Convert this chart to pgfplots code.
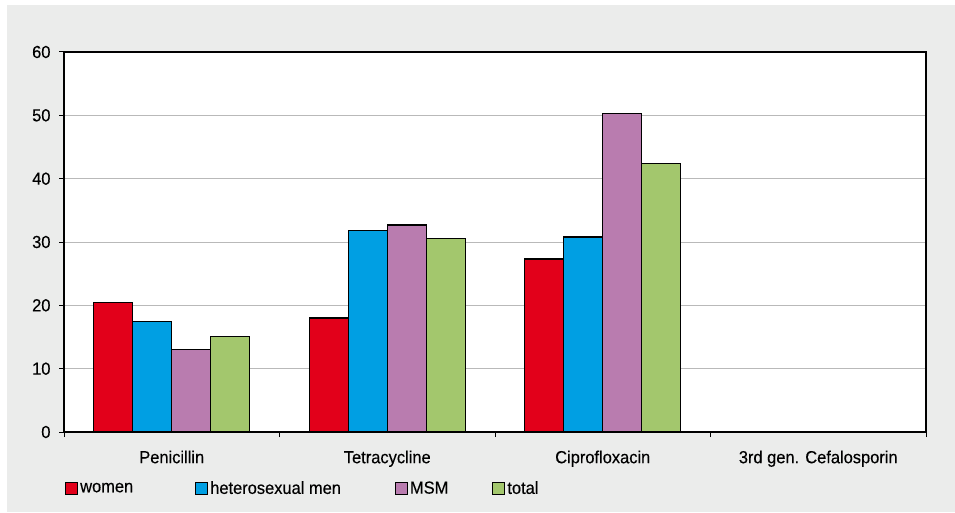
\documentclass[border=0pt]{standalone}
\usepackage{pgfplots}
\pgfplotsset{compat=1.18}
\usepackage{fontspec}
\setmainfont{Liberation Sans}
\newfontfamily\chartfam{Liberation Sans}[FakeStretch=0.94, FakeBold=0.3]

\definecolor{bgpanel}{RGB}{235,236,235}
\definecolor{cwomen}{RGB}{226,0,26}
\definecolor{chetero}{RGB}{0,159,227}
\definecolor{cmsm}{RGB}{185,124,175}
\definecolor{ctotal}{RGB}{163,199,109}
\definecolor{gridgray}{RGB}{185,185,185}
\newcommand{\chartfont}{\chartfam\fontsize{17.5}{20}\selectfont}

\begin{document}
\begin{tikzpicture}[x=1pt,y=1pt,font=\chartfont]
  % page and panel background
  \fill[white] (0,0) rectangle (955,512);
  \fill[bgpanel] (7,0) rectangle (955,507);
  \begin{axis}[
    at={(64pt,80pt)}, anchor=south west,
    scale only axis, width=862pt, height=380pt,
    axis background/.style={fill=white},
    ybar=0pt, bar width=39pt,
    xmin=-0.5, xmax=3.5, ymin=0, ymax=60,
    xtick={0,1,2,3},
    xticklabels={Penicillin,Tetracycline,Ciprofloxacin,3rd gen. Cefalosporin},
    minor xtick={-0.5,0.5,1.5,2.5,3.5},
    major x tick style={draw=none},
    minor tick length=5pt,
    ytick={0,10,...,60},
    major tick length=5pt,
    tick align=outside,
    xtick pos=bottom, ytick pos=left,
    tick style={black, line width=1pt},
    axis line style={black, line width=1.2pt},
    ymajorgrids, grid style={gridgray, line width=1pt},
    tick label style={font=\chartfont},
    /pgf/number format/assume math mode=true,
    yticklabel style={xshift=-5pt},
    xticklabel style={yshift=-10pt},
    legend columns=4,
    legend style={at={(rel axis cs:0,0)}, anchor=north west,
      xshift=-2pt, yshift=-45pt, draw=none, fill=none,
      font=\chartfont,
      /tikz/column 2/.style={column sep=60pt},
      /tikz/column 4/.style={column sep=52pt},
      /tikz/column 6/.style={column sep=42pt},
      nodes={inner xsep=2pt}},
    legend image code/.code={\draw[#1, draw=black, line width=1pt] (0pt,-6pt) rectangle (12pt,6pt);},
  ]
    \addplot[draw=black, line width=1.3pt, fill=cwomen] coordinates {(0,20.5) (1,18.0) (2,27.3)};
    \addplot[draw=black, line width=1.3pt, fill=chetero] coordinates {(0,17.5) (1,31.8) (2,30.8)};
    \addplot[draw=black, line width=1.3pt, fill=cmsm] coordinates {(0,13.0) (1,32.7) (2,50.3)};
    \addplot[draw=black, line width=1.3pt, fill=ctotal] coordinates {(0,15.1) (1,30.5) (2,42.4)};
    \legend{women, heterosexual men, MSM, total}
    \node[anchor=south west, inner sep=0pt] at (rel axis cs:0,1) [xshift=3pt, yshift=5pt] {\%};
  \end{axis}
\end{tikzpicture}
\end{document}
